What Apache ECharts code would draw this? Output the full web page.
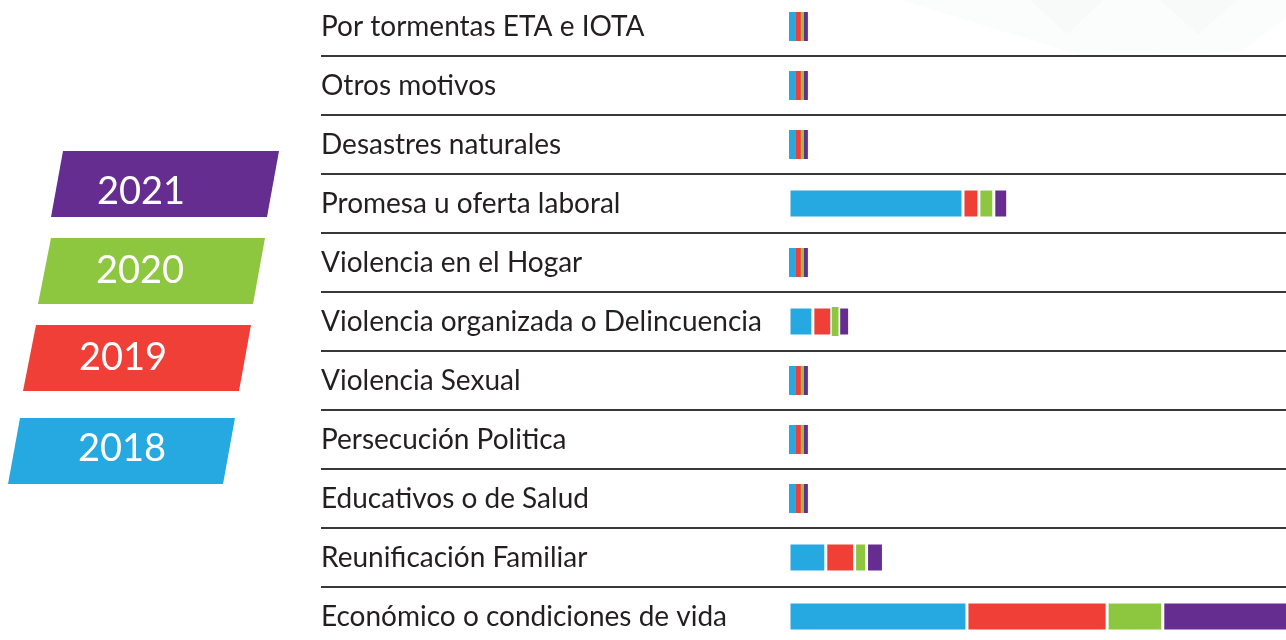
<!DOCTYPE html>
<html>
<head>
<meta charset="utf-8">
<script src="https://cdn.jsdelivr.net/npm/echarts@6/dist/echarts.min.js"></script>
<style>
html,body{margin:0;padding:0;background:#fff;overflow:hidden;width:1286px;height:640px;}
#chart{position:absolute;left:0;top:-3px;width:1296px;height:652px;}
</style>
</head>
<body>
<div id="chart"></div>
<script>
// ---- data ----
const categories = [
  "Por tormentas ETA e IOTA",
  "Otros motivos",
  "Desastres naturales",
  "Promesa u oferta laboral",
  "Violencia en el Hogar",
  "Violencia organizada o Delincuencia",
  "Violencia Sexual",
  "Persecución Politica",
  "Educativos o de Salud",
  "Reunificación Familiar",
  "Económico o condiciones de vida"
];
const years = ["2018", "2019", "2020", "2021"];
const v2018 = [7, 7, 7, 175, 7, 24, 7, 7, 7, 37, 179];
const v2019 = [5, 5, 5, 16, 5, 19, 5, 5, 5, 29, 141];
const v2020 = [3, 3, 3, 15, 3, 7, 3, 3, 3, 12, 56];
const v2021 = [4, 4, 4, 14, 4, 11, 4, 4, 4, 17, 140];
const seriesValues = [v2018, v2019, v2020, v2021];

// ---- styles ----
const colors = ["#25a9e0", "#ef3f37", "#8dc63f", "#652d90"];
const textColor = "#231f20";
const fontFamily = "Lato, 'Open Sans', sans-serif";
const dy = 3; // chart container is shifted up by 3px

// legend parallelograms (page coords) and label centers
const legendShapes = {
  "2021": {pts: [[63,151],[279,151],[267,217],[51,217]], tx: 141, ty: 192},
  "2020": {pts: [[51,238],[265,238],[253,304],[38,304]], tx: 140, ty: 271},
  "2019": {pts: [[36,325],[251,325],[239,391],[23,391]], tx: 123, ty: 358},
  "2018": {pts: [[20,418],[235,418],[223,484],[8,484]], tx: 122, ty: 449}
};
const shift = pts => pts.map(p => [p[0], p[1] + dy]);

const graphics = [
  // faint background chevrons
  {type:'polygon', z:-10, shape:{points:shift([[900,0],[1296,0],[1296,10],[1240,52],[1080,55]])}, style:{fill:'#fbfcfc'}},
  {type:'polygon', z:-9, shape:{points:shift([[1030,0],[1103,0],[1067,34]])}, style:{fill:'#f8faf9'}},
  {type:'polygon', z:-9, shape:{points:shift([[1160,0],[1237,0],[1198,34]])}, style:{fill:'#f8faf9'}}
];
years.forEach((y, i) => {
  const s = legendShapes[y];
  graphics.push({type:'polygon', shape:{points:shift(s.pts)}, style:{fill:colors[i]}});
  graphics.push({type:'text', x:s.tx, y:s.ty + dy, style:{text:y, fill:'#fff', font:"38px " + fontFamily, align:'center', verticalAlign:'middle'}});
});

const chart = echarts.init(document.getElementById('chart'), null, {renderer:'canvas'});
const option = {
  animation: false,
  backgroundColor: '#fff',
  grid: [
    {left: 321, right: 0, top: 0, height: 649},
    {left: 789, right: 0, top: 0, height: 649}
  ],
  xAxis: [
    {gridIndex: 0, type: 'value', show: false, min: 0, max: 1},
    {gridIndex: 1, type: 'value', show: false, min: 0, max: 510}
  ],
  yAxis: [
    {gridIndex: 0, type: 'category', data: categories, inverse: true,
     axisLine: {show: false}, axisTick: {show: false}, axisLabel: {show: false},
     splitLine: {show: true, interval: 0, lineStyle: {color: '#383838', width: 2}}},
    {gridIndex: 1, type: 'category', data: categories, inverse: true,
     axisLine: {show: false}, axisTick: {show: false}, splitLine: {show: false},
     axisLabel: {interval: 0, align: 'left', margin: 468, fontFamily: fontFamily, fontSize: 28, color: textColor}}
  ],
  series: years.map((y, i) => ({
    name: y,
    type: 'bar',
    xAxisIndex: 1,
    yAxisIndex: 1,
    stack: 'total',
    barWidth: 29,
    data: seriesValues[i].map(v => ({
      value: v,
      itemStyle: {borderWidth: v >= 10 ? 1.5 : 0}
    })),
    itemStyle: {color: colors[i], borderColor: '#fff'}
  })),
  graphic: graphics
};
chart.setOption(option);
</script>
</body>
</html>
